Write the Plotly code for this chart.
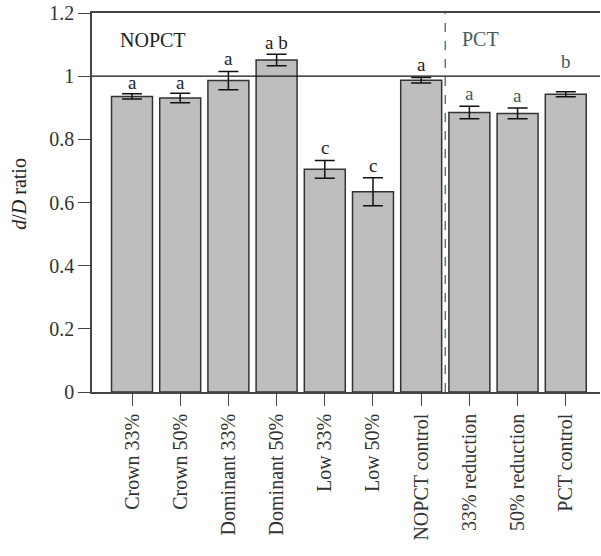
import plotly.graph_objects as go

categories = ["Crown 33%", "Crown 50%", "Dominant 33%", "Dominant 50%", "Low 33%",
              "Low 50%", "NOPCT control", "33% reduction", "50% reduction", "PCT control"]
ratios = [0.936, 0.931, 0.986, 1.051, 0.705, 0.634, 0.987, 0.885, 0.882, 0.943]
errors = [0.008, 0.015, 0.029, 0.018, 0.028, 0.044, 0.009, 0.020, 0.017, 0.008]
letters = ["a", "a", "a", "a b", "c", "c", "a", "a", "a", "b"]
letter_y = [0.980, 0.980, 1.056, 1.107, 0.774, 0.718, 1.037, 0.946, 0.940, 1.047]
groups = ["NOPCT"] * 7 + ["PCT"] * 3

FONT = "Liberation Serif"
TEAL = "#3e5d5d"

x = list(range(len(categories)))

fig = go.Figure()
fig.add_trace(go.Bar(
    x=x, y=ratios, width=0.85,
    marker=dict(color="#bebebe", line=dict(color="#333333", width=1.5)),
    error_y=dict(type="data", array=errors, color="#111111", thickness=1.5, width=10),
    showlegend=False,
))

for i, (lt, ly, g) in enumerate(zip(letters, letter_y, groups)):
    fig.add_annotation(x=i, y=ly, text=lt, showarrow=False, yanchor="middle",
                       font=dict(family=FONT, size=19, color=TEAL if g == "PCT" else "#222222"))

fig.add_annotation(x=-0.29, y=1.115, text="NOPCT", showarrow=False, xanchor="left",
                   yanchor="middle", font=dict(family=FONT, size=20, color="#222222"))
fig.add_annotation(x=6.80, y=1.118, text="PCT", showarrow=False, xanchor="left",
                   yanchor="middle", font=dict(family=FONT, size=20, color=TEAL))

fig.add_shape(type="line", xref="paper", x0=0, x1=1, yref="y", y0=1, y1=1,
              line=dict(color="#111111", width=1.3))
fig.add_shape(type="line", xref="x", x0=6.5, x1=6.5, yref="y", y0=0, y1=1.2,
              line=dict(color="#5a7878", width=1.5, dash="dash"))

fig.add_annotation(xref="paper", yref="paper", x=(19 - 92) / 508, y=(392.5 - 194) / 379.5,
                   text="<i>d</i>/<i>D</i> ratio", textangle=-90, showarrow=False,
                   xanchor="center", yanchor="middle", borderpad=0,
                   font=dict(family=FONT, size=20, color="#222222"))

fig.update_layout(
    width=601, height=556,
    margin=dict(l=92, r=1, t=13, b=163.5),
    plot_bgcolor="white", paper_bgcolor="white",
    font=dict(family=FONT, size=20, color="#333333"),
    xaxis=dict(range=[-0.83, 9.71], tickmode="array", tickvals=x, ticktext=categories,
               tickangle=-90, ticks="outside", ticklen=12, tickcolor="#444444",
               showline=True, linecolor="#444444", linewidth=1.5, mirror=True,
               showgrid=False, zeroline=False, automargin=False, ticklabeloverflow="allow",
               tickfont=dict(family=FONT, size=20, color="#333333")),
    yaxis=dict(range=[0, 1.2], tickvals=[0, 0.2, 0.4, 0.6, 0.8, 1, 1.2],
               ticktext=["0", "0.2", "0.4", "0.6", "0.8", "1", "1.2"],
               ticks="outside", ticklen=12, tickcolor="#444444",
               showline=True, linecolor="#444444", linewidth=1.5,
               showgrid=False, zeroline=False, automargin=False, ticklabeloverflow="allow",
               tickfont=dict(family=FONT, size=20, color="#333333")),
    bargap=0.15,
)

# remove the browser's default 8px body margin so the figure sits at the page origin
fig.write_html("out.html", config={"displayModeBar": False},
               post_script="document.body.style.margin='0';")
